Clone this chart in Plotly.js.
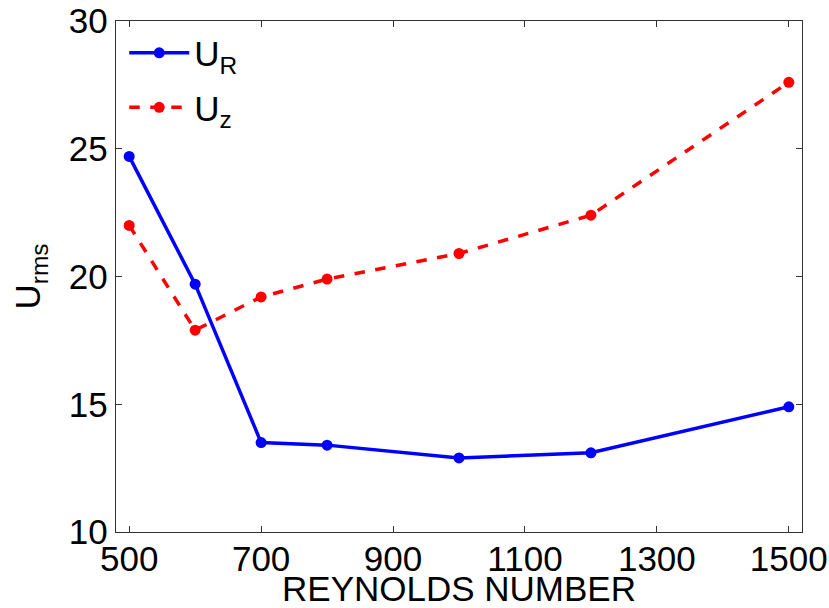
<!DOCTYPE html>
<html>
<head>
<meta charset="utf-8">
<script src="https://cdn.plot.ly/plotly-3.0.1.min.js"></script>
<style>html,body{margin:0;padding:0;background:#fff;}#chart{width:829px;height:608px;}</style>
</head>
<body>
<div id="chart"></div>
<script>
const reynolds = [500, 600, 700, 800, 1000, 1200, 1500];
const uR = [24.7, 19.7, 13.5, 13.4, 12.9, 13.1, 14.9];
const uZ = [22.0, 17.9, 19.2, 19.9, 20.9, 22.4, 27.6];
const xTicks = [500, 700, 900, 1100, 1300, 1500];
const yTicks = [10, 15, 20, 25, 30];

const font = {family: 'Liberation Sans, Arial, Helvetica, sans-serif', size: 35, color: '#000'};

const traces = [
  {x: reynolds, y: uR, name: 'U<sub>R</sub>', mode: 'lines+markers', type: 'scatter', legendgroup: 'a',
   line: {color: '#0000ff', width: 3.5}, marker: {color: '#0000ff', size: 11}},
  {x: reynolds, y: uZ, name: 'U<sub>z</sub>', mode: 'lines+markers', type: 'scatter', legendgroup: 'b',
   line: {color: '#ff0000', width: 3.5, dash: 'dash'}, marker: {color: '#ff0000', size: 11}}
];

const axisCommon = {
  showline: true, mirror: 'ticks', linecolor: '#333', linewidth: 1.2,
  ticks: 'inside', ticklen: 6, tickcolor: '#333', tickwidth: 1,
  showgrid: false, zeroline: false, tickfont: font
};

const layout = {
  width: 829, height: 608,
  margin: {l: 116, r: 27, t: 21, b: 76},
  paper_bgcolor: '#fff', plot_bgcolor: '#fff',
  font: font,
  showlegend: true,
  legend: {x: 0.012, y: 0.995, xanchor: 'left', yanchor: 'top', bgcolor: 'rgba(0,0,0,0)',
           font: font, tracegroupgap: 6, itemwidth: 60},
  xaxis: Object.assign({}, axisCommon, {
    range: [480, 1520], tickvals: xTicks, ticktext: xTicks.map(String),
    ticklabelstandoff: -4,
    title: {text: 'REYNOLDS NUMBER', font: font, standoff: 2}
  }),
  yaxis: Object.assign({}, axisCommon, {
    range: [10, 30], tickvals: yTicks, ticktext: yTicks.map(String),
    title: {text: 'U<sub>rms</sub>', font: font, standoff: 17}
  })
};

Plotly.newPlot('chart', traces, layout, {displayModeBar: false, staticPlot: true});
</script>
</body>
</html>
